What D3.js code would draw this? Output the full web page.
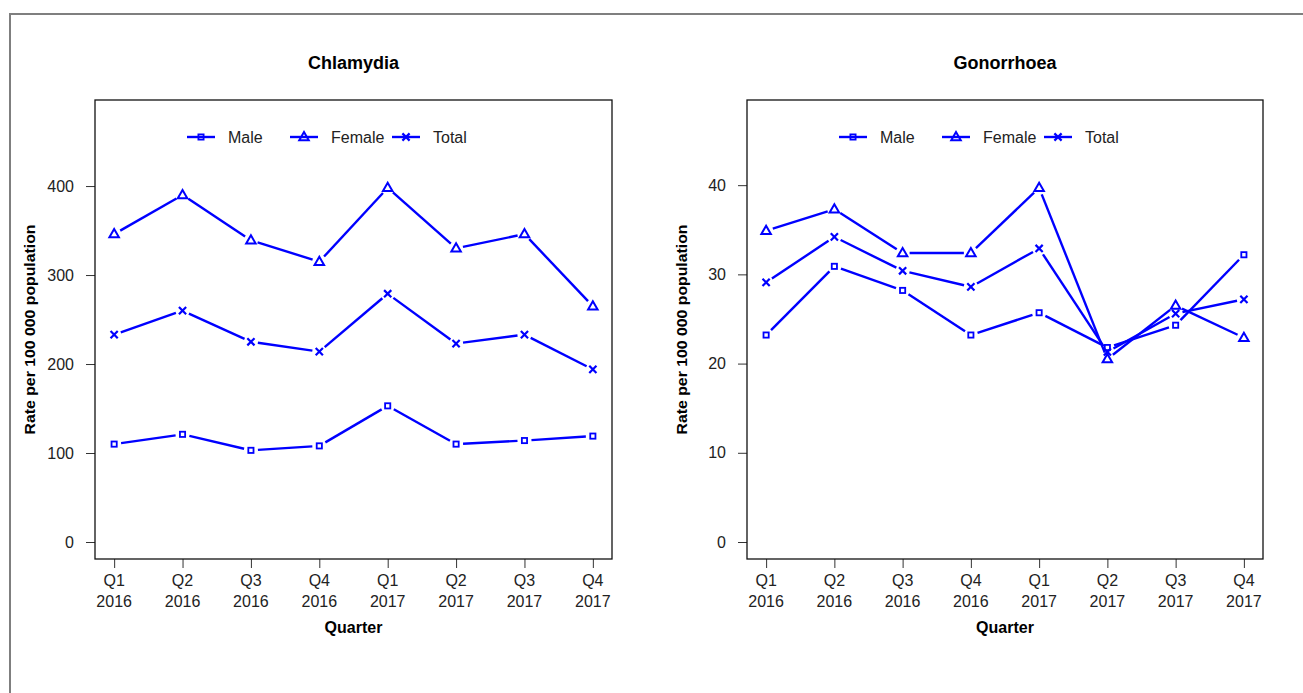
<!DOCTYPE html>
<html>
<head>
<meta charset="utf-8">
<script src="https://cdn.jsdelivr.net/npm/d3@7"></script>
<style>
  body { margin: 0; background: #fff; }
  svg { display: block; font-family: 'Liberation Sans', Arial, sans-serif; }
</style>
</head>
<body>
<svg id="chart" width="1303" height="693"></svg>
<script>
// quarters on the x axis
const quarters = ["Q1", "Q2", "Q3", "Q4", "Q1", "Q2", "Q3", "Q4"];
const years = ["2016", "2016", "2016", "2016", "2017", "2017", "2017", "2017"];

// Chlamydia rates per 100 000
const chlamMale = [110, 121, 103, 108, 153, 110, 114, 119];
const chlamFemale = [346, 390, 339, 315, 398, 330, 346, 265];
const chlamTotal = [233, 260, 225, 214, 279, 223, 233, 194];

// Gonorrhoea rates per 100 000
const gonoMale = [23.2, 30.9, 28.2, 23.2, 25.7, 21.8, 24.3, 32.2];
const gonoFemale = [34.9, 37.3, 32.4, 32.4, 39.7, 20.5, 26.5, 22.9];
const gonoTotal = [29.1, 34.2, 30.4, 28.6, 32.9, 21.3, 25.6, 27.2];

const chlamTicks = [0, 100, 200, 300, 400];
const gonoTicks = [0, 10, 20, 30, 40];

const blue = "#0000ff";
const svg = d3.select("#chart");

// outer frame
svg.append("rect")
	.attr("x", 10).attr("y", 14)
	.attr("width", 1310).attr("height", 700)
	.attr("fill", "none")
	.attr("stroke", "#7f7f7f")
	.attr("stroke-width", 2);

function drawMarker(g, shape, cx, cy) {
	if (shape == "square") {
		g.append("rect")
			.attr("x", cx - 2.6).attr("y", cy - 2.6)
			.attr("width", 5.2).attr("height", 5.2)
			.attr("fill", "none").attr("stroke", blue).attr("stroke-width", 1.8);
	} else if (shape == "triangle") {
		const r = 5;
		g.append("path")
			.attr("d", `M${cx},${cy - r} L${cx + r * 0.95},${cy + r * 0.65} L${cx - r * 0.95},${cy + r * 0.65} Z`)
			.attr("fill", "none").attr("stroke", blue).attr("stroke-width", 2);
	} else {
		const r = 3.6;
		g.append("path")
			.attr("d", `M${cx - r},${cy - r} L${cx + r},${cy + r} M${cx - r},${cy + r} L${cx + r},${cy - r}`)
			.attr("fill", "none").attr("stroke", blue).attr("stroke-width", 2.2);
	}
}

function drawPanel(opts) {
	const { left, right, top, bottom, title, series, ticks } = opts;
	const g = svg.append("g");

	const maxVal = d3.max(series.flatMap(s => s.values)) * 1.2;
	const ext = maxVal * 0.04;
	const y = d3.scaleLinear().domain([-ext, maxVal + ext]).range([bottom, top]);
	const x = d3.scaleLinear().domain([0.72, 8.28]).range([left, right]);

	// title
	g.append("text")
		.attr("x", (left + right) / 2).attr("y", 69)
		.attr("text-anchor", "middle")
		.attr("font-size", "18px").attr("font-weight", "bold")
		.text(title);

	// y axis
	const yAxis = g.append("g").attr("transform", `translate(${left},0)`)
		.call(d3.axisLeft(y).tickValues(ticks).tickSize(9).tickPadding(12).tickFormat(d3.format("d")));
	yAxis.select(".domain").remove();
	yAxis.selectAll("line").attr("stroke", "#333");
	yAxis.selectAll("text").attr("font-size", "16px").attr("fill", "#222")
		.attr("font-family", "'Liberation Sans', Arial, sans-serif");

	// x axis
	const xAxis = g.append("g").attr("transform", `translate(0,${bottom})`)
		.call(d3.axisBottom(x).tickValues(d3.range(1, 9)).tickSize(9).tickFormat(""));
	xAxis.select(".domain").remove();
	xAxis.selectAll("line").attr("stroke", "#333");
	const xl = g.append("g");
	quarters.forEach((q, i) => {
		const t = xl.append("text")
			.attr("x", x(i + 1)).attr("text-anchor", "middle")
			.attr("font-size", "16px").attr("fill", "#222");
		t.append("tspan").attr("x", x(i + 1)).attr("y", bottom + 27).text(q);
		t.append("tspan").attr("x", x(i + 1)).attr("y", bottom + 48).text(years[i]);
	});

	// axis titles
	g.append("text")
		.attr("x", (left + right) / 2).attr("y", bottom + 74)
		.attr("text-anchor", "middle")
		.attr("font-size", "16px").attr("font-weight", "bold")
		.text("Quarter");
	g.append("text")
		.attr("transform", `translate(${left - 60},${(top + bottom) / 2}) rotate(-90)`)
		.attr("text-anchor", "middle")
		.attr("font-size", "14px").attr("font-weight", "bold")
		.attr("textLength", 210).attr("lengthAdjust", "spacingAndGlyphs")
		.text("Rate per 100 000 population");

	// series: line segments with gaps around the points
	const gap = 7;
	series.forEach(s => {
		const pts = s.values.map((v, i) => [x(i + 1), y(v)]);
		for (let i = 0; i < pts.length - 1; i++) {
			const [x1, y1] = pts[i], [x2, y2] = pts[i + 1];
			const len = Math.hypot(x2 - x1, y2 - y1);
			if (len <= 2 * gap) continue;
			const ux = (x2 - x1) / len, uy = (y2 - y1) / len;
			g.append("line")
				.attr("x1", x1 + ux * gap).attr("y1", y1 + uy * gap)
				.attr("x2", x2 - ux * gap).attr("y2", y2 - uy * gap)
				.attr("stroke", blue).attr("stroke-width", 2.4);
		}
		pts.forEach(p => drawMarker(g, s.shape, p[0], p[1]));
	});

	// legend
	const ly = 137;
	const legendItems = [
		{ name: "Male", shape: "square", x0: 92 },
		{ name: "Female", shape: "triangle", x0: 195 },
		{ name: "Total", shape: "x", x0: 297 }
	];
	legendItems.forEach(d => {
		g.append("line")
			.attr("x1", left + d.x0).attr("x2", left + d.x0 + 28)
			.attr("y1", ly).attr("y2", ly)
			.attr("stroke", blue).attr("stroke-width", 2.4);
		drawMarker(g, d.shape, left + d.x0 + 14, ly);
		g.append("text")
			.attr("x", left + d.x0 + 41).attr("y", ly + 6)
			.attr("font-size", "16px").attr("fill", "#222")
			.text(d.name);
	});

	// plot box
	g.append("rect")
		.attr("x", left).attr("y", top)
		.attr("width", right - left).attr("height", bottom - top)
		.attr("fill", "none").attr("stroke", "#111").attr("stroke-width", 1.3);
}

drawPanel({
	left: 95, right: 612, top: 100, bottom: 559,
	title: "Chlamydia",
	ticks: chlamTicks,
	series: [
		{ values: chlamMale, shape: "square" },
		{ values: chlamFemale, shape: "triangle" },
		{ values: chlamTotal, shape: "x" }
	]
});

drawPanel({
	left: 747, right: 1263, top: 100, bottom: 559,
	title: "Gonorrhoea",
	ticks: gonoTicks,
	series: [
		{ values: gonoMale, shape: "square" },
		{ values: gonoFemale, shape: "triangle" },
		{ values: gonoTotal, shape: "x" }
	]
});
</script>
</body>
</html>
